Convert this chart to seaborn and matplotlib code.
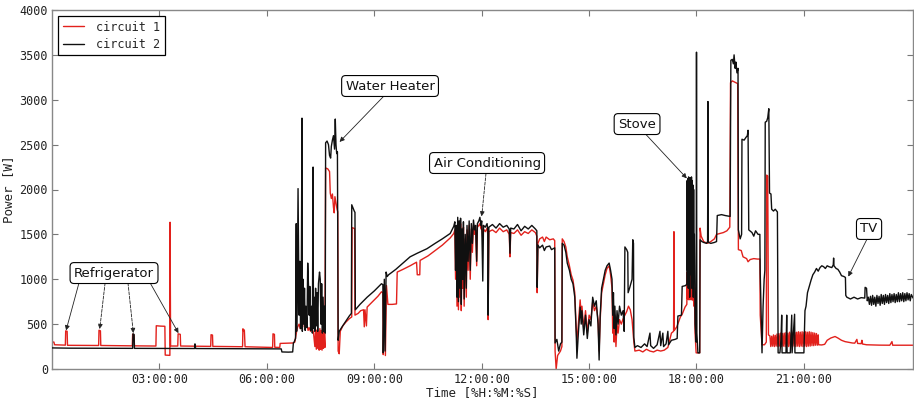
import matplotlib
matplotlib.use("Agg")
import matplotlib.pyplot as plt
import seaborn as sns
import pandas as pd
from matplotlib.ticker import FixedLocator, FuncFormatter

# ---------------- data: (hour of day, power in W) ----------------
# circuit 1 (red)
c1_night = [(0.00, 300), (0.05, 300), (0.07, 270), (0.37, 266), (0.38, 425), (0.42, 420), (0.43, 264),
            (1.30, 262), (1.31, 432), (1.35, 425), (1.36, 262),
            (2.24, 258), (2.25, 388), (2.29, 380), (2.30, 258),
            (2.90, 256), (2.91, 482), (3.02, 478), (3.15, 476), (3.16, 155), (3.29, 152), (3.295, 1635), (3.31, 256),
            (3.51, 256), (3.52, 392), (3.58, 386), (3.59, 256),
            (4.43, 252), (4.44, 382), (4.48, 378), (4.49, 252),
            (5.32, 248), (5.33, 448), (5.35, 420), (5.37, 435), (5.39, 248),
            (6.16, 240), (6.17, 392), (6.21, 386), (6.22, 242),
            (6.36, 240), (6.37, 285), (6.74, 290)]
c1_morning = [(6.78, 300), (6.80, 350), (6.83, 420), (6.86, 470), (6.90, 500), (6.93, 450), (6.97, 480), (7.00, 470),
              (7.02, 880), (7.04, 620), (7.06, 480), (7.09, 470), (7.12, 500), (7.15, 430), (7.18, 460), (7.22, 420),
              (7.26, 450), (7.30, 410), (7.34, 250), (7.36, 440), (7.38, 220), (7.40, 430), (7.42, 230), (7.44, 420),
              (7.46, 210), (7.48, 450), (7.50, 220), (7.52, 430), (7.54, 210), (7.56, 420), (7.58, 230), (7.60, 400),
              (7.62, 240), (7.64, 2240), (7.70, 2230), (7.75, 2200), (7.77, 1960), (7.80, 1900), (7.83, 1950),
              (7.86, 1800), (7.88, 1740), (7.90, 1920), (7.93, 1850), (7.96, 1780), (7.98, 1750),
              (7.99, 200), (8.02, 170), (8.05, 420), (8.12, 480), (8.20, 520), (8.30, 560), (8.37, 580),
              (8.38, 1575), (8.45, 1565), (8.46, 600), (8.55, 620), (8.62, 650), (8.70, 660), (8.72, 470),
              (8.74, 660), (8.78, 480), (8.80, 690), (8.90, 730), (9.00, 770), (9.10, 810), (9.20, 860), (9.24, 850),
              (9.25, 160), (9.28, 900), (9.31, 150), (9.34, 930), (9.38, 720), (9.50, 720), (9.62, 725),
              (9.64, 1080), (9.80, 1110), (10.00, 1150), (10.18, 1190), (10.20, 1050), (10.27, 1050), (10.28, 1210),
              (10.50, 1260), (10.70, 1320), (10.90, 1380), (11.12, 1460), (11.22, 1510)]
c1_midday = [(11.25, 1550), (11.27, 1000), (11.29, 1550), (11.31, 700), (11.33, 1600), (11.35, 660), (11.37, 1580),
             (11.39, 800), (11.41, 1620), (11.43, 650), (11.45, 1500), (11.47, 900), (11.49, 1580), (11.51, 700),
             (11.54, 1450), (11.57, 800), (11.59, 1550), (11.62, 1100), (11.65, 1600), (11.68, 1000), (11.71, 1560),
             (11.74, 1300), (11.77, 1600), (11.80, 1500), (11.83, 1550), (11.86, 1150), (11.88, 1580), (11.92, 1600),
             (11.95, 1620), (11.98, 1560), (12.00, 1600), (12.03, 1450), (12.05, 1560), (12.10, 1530), (12.15, 1570),
             (12.17, 1500), (12.18, 550), (12.20, 1530), (12.30, 1550), (12.40, 1520), (12.50, 1570), (12.60, 1530),
             (12.70, 1550), (12.77, 1500), (12.79, 1250), (12.81, 1520), (12.90, 1510), (13.00, 1550), (13.10, 1490),
             (13.20, 1530), (13.30, 1510), (13.40, 1550), (13.50, 1520), (13.54, 1480), (13.55, 850), (13.57, 1400),
             (13.62, 1450), (13.70, 1470), (13.75, 1420), (13.80, 1470), (13.90, 1440), (14.00, 1450), (14.04, 1430),
             (14.05, 200), (14.08, 0), (14.12, 150), (14.20, 200), (14.24, 250)]
c1_afternoon = [(14.25, 1450), (14.30, 1420), (14.35, 1360), (14.39, 1250), (14.45, 1150), (14.50, 1050), (14.55, 990),
                (14.60, 850), (14.64, 450), (14.66, 300), (14.70, 500), (14.75, 770), (14.78, 600), (14.80, 700),
                (14.85, 450), (14.90, 650), (14.95, 400), (15.00, 600), (15.05, 550), (15.10, 750), (15.15, 650),
                (15.20, 700), (15.25, 550), (15.28, 200), (15.31, 550), (15.35, 850), (15.40, 950), (15.45, 1050),
                (15.50, 1120), (15.56, 1150), (15.60, 1050), (15.64, 900), (15.66, 400), (15.68, 700), (15.70, 300),
                (15.72, 600), (15.75, 250), (15.78, 500), (15.81, 400), (15.85, 550), (15.90, 500), (15.95, 560),
                (16.00, 600), (16.05, 640), (16.10, 700), (16.15, 660), (16.20, 550), (16.25, 300), (16.28, 200),
                (16.40, 210), (16.50, 190), (16.60, 220), (16.70, 200), (16.80, 190), (16.90, 210), (17.00, 200),
                (17.10, 210), (17.20, 240), (17.30, 400), (17.36, 420), (17.37, 1530), (17.38, 430), (17.45, 470),
                (17.55, 580), (17.60, 610), (17.68, 690), (17.73, 720)]
c1_evening = [(17.74, 1080), (17.75, 780), (17.76, 1100), (17.77, 790), (17.78, 1090), (17.79, 770), (17.80, 1070),
              (17.81, 800), (17.82, 1100), (17.83, 780), (17.84, 1080), (17.85, 770), (17.86, 1090), (17.87, 790),
              (17.88, 1060), (17.89, 780), (17.90, 1070), (17.91, 760), (17.92, 1040), (17.93, 700), (17.94, 900),
              (17.96, 400), (17.99, 180), (18.09, 180), (18.10, 1570), (18.13, 1480), (18.20, 1420), (18.30, 1400),
              (18.40, 1420), (18.50, 1450), (18.56, 1500), (18.65, 1510), (18.75, 1520), (18.85, 1540), (18.93, 1580),
              (18.95, 3190), (19.00, 3210), (19.05, 3200), (19.10, 3190), (19.15, 3180), (19.17, 1330), (19.25, 1320),
              (19.30, 1250), (19.40, 1230), (19.44, 1195), (19.50, 1220), (19.60, 1230), (19.70, 1225), (19.77, 1225),
              (19.78, 600), (19.83, 270), (19.90, 270), (19.95, 300), (19.96, 2160), (19.99, 2150), (20.01, 380)]
c1_band = [(20.050, 370), (20.075, 250), (20.100, 365), (20.125, 255), (20.150, 380), (20.175, 250), (20.200, 375),
           (20.225, 255), (20.250, 390), (20.275, 250), (20.300, 395), (20.325, 255), (20.350, 400), (20.375, 250),
           (20.400, 395), (20.425, 255), (20.450, 400), (20.475, 250), (20.500, 405), (20.525, 255), (20.550, 400),
           (20.575, 250), (20.600, 410), (20.625, 255), (20.650, 400), (20.675, 250), (20.700, 410), (20.725, 255),
           (20.750, 405), (20.775, 250), (20.800, 410), (20.825, 255), (20.850, 415), (20.875, 250), (20.900, 410),
           (20.925, 255), (20.950, 415), (20.975, 250), (21.000, 410), (21.025, 255), (21.050, 415), (21.075, 250),
           (21.100, 410), (21.125, 255), (21.150, 415), (21.175, 255), (21.200, 410), (21.225, 260), (21.250, 405),
           (21.275, 260), (21.300, 400), (21.325, 265), (21.350, 395), (21.375, 265), (21.400, 380)]
c1_late = [(21.41, 270), (21.50, 268), (21.58, 275), (21.65, 320), (21.75, 345), (21.87, 362), (21.95, 345),
           (22.05, 320), (22.15, 305), (22.25, 298), (22.35, 290), (22.42, 288), (22.48, 330), (22.50, 285),
           (22.60, 282), (22.62, 320), (22.64, 278), (22.75, 270), (22.90, 268), (23.10, 266), (23.40, 265),
           (23.46, 305), (23.48, 265), (23.70, 265), (24.05, 265)]

# circuit 2 (black)
c2_night = [(0.00, 235), (0.50, 232), (1.50, 231), (2.25, 230), (2.26, 392), (2.29, 385), (2.30, 230), (3.00, 229),
            (3.98, 228), (3.99, 280), (4.01, 228), (5.50, 226), (6.20, 224), (6.40, 224), (6.42, 190), (6.60, 188),
            (6.72, 190), (6.74, 290)]
c2_morning = [(6.76, 300), (6.80, 340), (6.82, 1620), (6.83, 420), (6.85, 900), (6.87, 2010), (6.88, 1500), (6.90, 600),
              (6.92, 1200), (6.94, 450), (6.96, 820), (6.98, 2795), (6.99, 420), (7.01, 1000), (7.03, 500), (7.05, 900),
              (7.07, 430), (7.09, 700), (7.12, 460), (7.14, 1180), (7.16, 950), (7.18, 600), (7.20, 920), (7.22, 430),
              (7.25, 700), (7.27, 400), (7.29, 2250), (7.30, 450), (7.32, 800), (7.34, 420), (7.36, 900), (7.38, 480),
              (7.40, 850), (7.42, 420), (7.44, 950), (7.47, 1080), (7.49, 1000), (7.51, 500), (7.53, 950), (7.55, 400),
              (7.57, 800), (7.59, 420), (7.61, 700), (7.63, 400), (7.64, 2520), (7.68, 2540), (7.72, 2500),
              (7.75, 2380), (7.78, 2350), (7.80, 2480), (7.83, 2550), (7.86, 2600), (7.89, 2450), (7.91, 2785),
              (7.93, 2500), (7.95, 2400), (7.97, 2420), (7.99, 320), (8.02, 420), (8.10, 470), (8.20, 530),
              (8.30, 590), (8.36, 620), (8.37, 1830), (8.40, 1800), (8.44, 1760), (8.46, 1745), (8.47, 660),
              (8.60, 720), (8.80, 800), (9.00, 870), (9.20, 950), (9.24, 940), (9.25, 180), (9.28, 1000), (9.30, 200),
              (9.33, 1080), (9.36, 1030), (9.40, 1050), (9.60, 1110), (9.80, 1180), (10.00, 1250), (10.20, 1290),
              (10.47, 1340), (10.70, 1400), (10.90, 1450), (11.12, 1510), (11.22, 1590)]
c2_midday = [(11.25, 1640), (11.27, 1100), (11.29, 1600), (11.31, 800), (11.33, 1690), (11.35, 750), (11.37, 1650),
             (11.39, 900), (11.41, 1680), (11.43, 720), (11.45, 1560), (11.47, 1000), (11.49, 1640), (11.51, 780),
             (11.54, 1500), (11.57, 900), (11.59, 1600), (11.62, 1200), (11.65, 1650), (11.68, 1100), (11.71, 1620),
             (11.74, 1400), (11.77, 1660), (11.80, 1550), (11.83, 1600), (11.86, 1200), (11.88, 1620), (11.92, 1650),
             (11.95, 1690), (11.98, 1600), (12.00, 1650), (12.03, 980), (12.05, 1600), (12.10, 1580), (12.15, 1620),
             (12.17, 1550), (12.18, 600), (12.20, 1580), (12.30, 1610), (12.40, 1570), (12.50, 1620), (12.60, 1580),
             (12.70, 1600), (12.77, 1560), (12.79, 1290), (12.81, 1570), (12.90, 1560), (13.00, 1610), (13.10, 1540),
             (13.20, 1590), (13.30, 1560), (13.40, 1600), (13.50, 1560), (13.54, 1540), (13.55, 910), (13.57, 1380),
             (13.62, 1350), (13.70, 1380), (13.75, 1320), (13.80, 1360), (13.90, 1370), (13.95, 1330), (14.04, 1350),
             (14.05, 290), (14.10, 330), (14.15, 200), (14.20, 280), (14.24, 300)]
c2_afternoon = [(14.25, 1400), (14.30, 1380), (14.35, 1300), (14.39, 1180), (14.45, 1100), (14.50, 1000), (14.55, 950),
                (14.60, 800), (14.64, 400), (14.66, 120), (14.70, 400), (14.75, 690), (14.78, 500), (14.80, 650),
                (14.85, 380), (14.90, 600), (14.95, 340), (15.00, 550), (15.05, 480), (15.10, 800), (15.15, 700),
                (15.20, 760), (15.25, 500), (15.28, 100), (15.31, 600), (15.35, 900), (15.40, 1000), (15.45, 1100),
                (15.50, 1150), (15.56, 1180), (15.60, 1100), (15.64, 1000), (15.66, 600), (15.68, 850), (15.70, 450),
                (15.72, 700), (15.75, 380), (15.78, 650), (15.81, 500), (15.85, 700), (15.90, 600), (15.95, 650),
                (15.98, 420), (16.00, 1360), (16.05, 1330), (16.08, 1300), (16.09, 850), (16.13, 900), (16.20, 1000),
                (16.22, 1440), (16.24, 1400), (16.25, 350), (16.28, 240), (16.35, 260), (16.45, 240), (16.55, 280),
                (16.62, 250), (16.70, 400), (16.72, 260), (16.80, 230), (16.90, 270), (16.98, 420), (17.00, 260),
                (17.06, 400), (17.08, 250), (17.15, 280), (17.20, 420), (17.22, 270), (17.30, 320), (17.40, 330),
                (17.46, 340), (17.48, 590), (17.58, 600), (17.60, 920), (17.70, 930), (17.73, 950)]
c2_evening = [(17.74, 2100), (17.75, 1100), (17.76, 2120), (17.77, 900), (17.78, 2140), (17.79, 1100), (17.80, 2100),
              (17.81, 800), (17.82, 2130), (17.83, 1100), (17.84, 2080), (17.85, 1050), (17.86, 2140), (17.87, 900),
              (17.88, 2100), (17.89, 1100), (17.90, 2050), (17.91, 800), (17.92, 2000), (17.93, 1100), (17.94, 1500),
              (17.96, 500), (17.99, 300), (18.00, 3530), (18.01, 400), (18.04, 180), (18.09, 180), (18.10, 1440),
              (18.15, 1420), (18.20, 1410), (18.28, 1400), (18.31, 1420), (18.32, 2980), (18.33, 1410), (18.40, 1400),
              (18.50, 1410), (18.56, 1420), (18.58, 1710), (18.70, 1720), (18.80, 1710), (18.94, 1700), (18.96, 3440),
              (19.00, 3450), (19.03, 3400), (19.05, 3500), (19.08, 3350), (19.10, 3420), (19.13, 3300), (19.16, 3350),
              (19.17, 1550), (19.22, 1450), (19.26, 1500), (19.27, 2560), (19.33, 2550), (19.38, 2580), (19.42, 2600),
              (19.44, 2660), (19.46, 1550), (19.55, 1520), (19.60, 1480), (19.65, 1540), (19.72, 1500), (19.77, 1500),
              (19.78, 1070), (19.80, 700), (19.83, 180), (19.86, 700), (19.89, 1000), (19.91, 1100), (19.92, 2750),
              (19.96, 2760), (19.99, 2800), (20.02, 2900), (20.04, 1960), (20.08, 1950), (20.10, 1780), (20.15, 1760),
              (20.20, 1780), (20.26, 1750), (20.28, 180)]
c2_late = [(20.33, 180), (20.36, 330), (20.38, 600), (20.39, 180), (20.50, 180), (20.52, 600), (20.53, 180),
           (20.62, 180), (20.66, 600), (20.67, 180), (20.74, 610), (20.75, 180), (21.00, 180), (21.03, 650),
           (21.06, 700), (21.10, 850), (21.15, 920), (21.20, 990), (21.25, 1050), (21.30, 1080), (21.35, 1120),
           (21.40, 1090), (21.45, 1130), (21.50, 1150), (21.55, 1140), (21.60, 1120), (21.65, 1150), (21.70, 1140),
           (21.78, 1130), (21.82, 1160), (21.83, 1236), (21.84, 1150), (21.90, 1120), (21.95, 1110), (22.00, 1080),
           (22.05, 1040), (22.12, 1030), (22.16, 1020), (22.17, 820), (22.20, 800), (22.25, 790), (22.30, 780),
           (22.40, 800), (22.50, 780), (22.60, 795), (22.70, 790), (22.71, 910), (22.75, 900), (22.77, 760)]
c2_tail = [(22.80, 800), (22.83, 720), (22.86, 810), (22.89, 710), (22.92, 820), (22.95, 720), (22.98, 800),
           (23.01, 700), (23.04, 820), (23.07, 730), (23.10, 810), (23.13, 710), (23.16, 830), (23.19, 730),
           (23.22, 820), (23.25, 720), (23.28, 830), (23.31, 740), (23.34, 820), (23.37, 730), (23.40, 840),
           (23.43, 740), (23.46, 830), (23.49, 750), (23.52, 840), (23.55, 740), (23.58, 830), (23.61, 750),
           (23.64, 850), (23.67, 750), (23.70, 840), (23.73, 760), (23.76, 850), (23.79, 750), (23.82, 840),
           (23.85, 760), (23.88, 850), (23.91, 770), (23.94, 840), (23.97, 760), (24.00, 830), (24.05, 790)]

x_ticks = [3, 6, 9, 12, 15, 18, 21]
y_ticks = [0, 500, 1000, 1500, 2000, 2500, 3000, 3500, 4000]

# annotations: label, text position, list of (arrow start, arrow tip, linestyle)
annotations = [
    ("Refrigerator", (1.73, 1069), [((0.75, 958), (0.39, 430), "-"), ((1.48, 958), (1.33, 445), "--"),
                                     ((2.12, 958), (2.27, 400), "--"), ((2.74, 958), (3.53, 400), "-")]),
    ("Water Heater", (9.44, 3153), [((9.35, 3075), (8.03, 2530), "-")]),
    ("Air Conditioning", (12.15, 2295), [((12.12, 2180), (12.00, 1700), "--")]),
    ("Stove", (16.34, 2729), [((16.56, 2625), (17.73, 2124), "-")]),
    ("TV", (22.82, 1560), [((22.76, 1445), (22.24, 1030), "-")]),
]


def to_frame(*segments):
    pts = [p for seg in segments for p in seg]
    return pd.DataFrame(pts, columns=["hour", "power"])


c1 = to_frame(c1_night, c1_morning, c1_midday, c1_afternoon, c1_evening, c1_band, c1_late)
c2 = to_frame(c2_night, c2_morning, c2_midday, c2_afternoon, c2_evening, c2_late, c2_tail)

sns.set_style("ticks")
plt.rcParams["font.family"] = ["DejaVu Sans Mono"]

fig = plt.figure(figsize=(9.14, 4.0), dpi=100)
ax = fig.add_axes([0.057, 0.0775, 0.942, 0.8975])

sns.lineplot(data=c1, x="hour", y="power", sort=False, estimator=None, color="#e2211c",
             lw=1.0, ax=ax, label="circuit 1", zorder=2)
sns.lineplot(data=c2, x="hour", y="power", sort=False, estimator=None, color="#101010",
             lw=1.0, ax=ax, label="circuit 2", zorder=3)

ax.set_xlim(0, 24.05)
ax.set_ylim(0, 4000)
ax.xaxis.set_major_locator(FixedLocator(x_ticks))
ax.xaxis.set_major_formatter(FuncFormatter(lambda v, p: f"{int(round(v)):02d}:00:00"))
ax.yaxis.set_major_locator(FixedLocator(y_ticks))
ax.tick_params(direction="in", top=True, right=True, length=4, width=0.8,
               labelsize=8.5, color="#777777", labelcolor="#222222")
ax.tick_params(axis="x", pad=3)
ax.tick_params(axis="y", pad=3)
for s in ax.spines.values():
    s.set_color("#888888")
    s.set_linewidth(1.0)
    s.set_visible(True)

ax.set_xlabel("Time [%H:%M:%S]", fontsize=9, color="#222222", labelpad=0)
ax.set_ylabel("Power [W]", fontsize=9, color="#222222", labelpad=3)

leg = ax.legend(loc="upper left", frameon=True, fancybox=False, fontsize=8.5,
                handlelength=1.8, borderaxespad=0.5, framealpha=1, borderpad=0.4,
                labelspacing=0.35, handletextpad=1.0)
leg.get_frame().set_edgecolor("black")
leg.get_frame().set_linewidth(0.9)

for label, pos, arrows in annotations:
    ax.text(pos[0], pos[1], label, ha="center", va="center", fontsize=9.5,
            family=["DejaVu Sans"], zorder=6, color="#111111",
            bbox=dict(boxstyle="round,pad=0.3", fc="white", ec="black", lw=0.8))
    for start, tip, ls in arrows:
        ax.annotate("", xy=tip, xytext=start, zorder=5,
                    arrowprops=dict(arrowstyle="-|>", color="#222222", lw=0.6, linestyle=ls,
                                    mutation_scale=7, shrinkA=0, shrinkB=0))

fig.savefig("out.png", dpi=100, facecolor="white")
